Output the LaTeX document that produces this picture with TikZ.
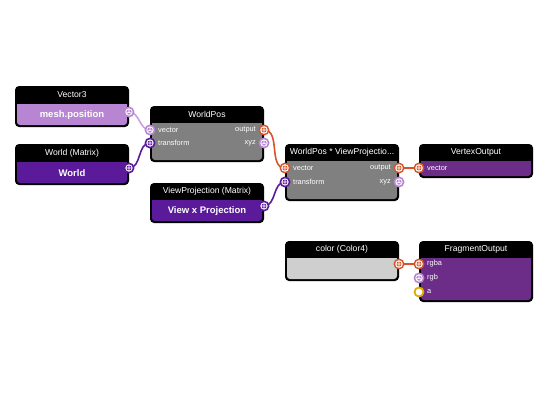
\documentclass[tikz,border=0pt]{standalone}
\usepackage{fontspec}
\setmainfont{Liberation Sans}
\pgfdeclarelayer{bg}
\pgfsetlayers{bg,main}

\definecolor{vthree}{HTML}{B885D2}
\definecolor{vthreewire}{HTML}{C9A2E2}
\definecolor{matcol}{HTML}{5A1A99}
\definecolor{vfour}{HTML}{D4552A}
\definecolor{floatcol}{HTML}{E2A800}
\definecolor{outcol}{HTML}{6B2D87}
\definecolor{greybody}{HTML}{808080}
\definecolor{colorbody}{HTML}{CFCFCF}

% one block of the graph: left, top, header bottom, bottom, body colour
\newcommand\blockbox[5]{%
  \fill[black,rounded corners=4pt] (#1,#2) rectangle (#1+114,#4);
  \fill[#5] (#1+2,#3) -- (#1+112,#3) [rounded corners=3pt] -- (#1+112,#4-2) -- (#1+2,#4-2) [sharp corners] -- cycle;
}

\tikzset{
  title/.style={text=white,font=\fontsize{8.6}{10}\selectfont,inner sep=0pt},
  value/.style={text=white,font=\fontsize{9.5}{11}\selectfont\bfseries,inner sep=0pt},
  inlabel/.style={text=white,font=\fontsize{7.4}{8}\selectfont,inner sep=0pt,anchor=west},
  outlabel/.style={text=white,font=\fontsize{7.4}{8}\selectfont,inner sep=0pt,anchor=east},
  port/.style={circle,minimum size=11pt,inner sep=0pt},
  portthree/.style={port,fill=vthree,path picture={
    \draw[white,line width=0.8pt,shift={(path picture bounding box.center)}]
      (0,0) circle (3.2pt) (0,0) -- (90:3.2pt) (0,0) -- (210:3.2pt) (0,0) -- (330:3.2pt);}},
  portmat/.style={port,fill=matcol,path picture={
    \draw[white,line width=0.8pt,shift={(path picture bounding box.center)}]
      (0,0) circle (3.2pt) (-3.2pt,0) -- (3.2pt,0) (0,-3.2pt) -- (0,3.2pt);}},
  portfour/.style={port,fill=vfour,path picture={
    \draw[white,line width=0.9pt,shift={(path picture bounding box.center)}]
      (0,0) circle (3.3pt) (-3.3pt,0) -- (3.3pt,0) (0,-3.3pt) -- (0,3.3pt);}},
  portfloat/.style={port,fill=white,draw=floatcol,line width=1.8pt,minimum size=9pt},
  wire/.style={line width=1.6pt},
}

\begin{document}
\begin{tikzpicture}[x=1pt,y=-1pt]
\useasboundingbox (0,0) rectangle (550,400);

% blocks
\blockbox{15}{86}{104}{127}{vthree}
\blockbox{15}{144}{162}{185}{matcol}
\blockbox{150}{106}{123}{162}{greybody}
\blockbox{150}{183}{200}{223}{matcol}
\blockbox{285}{144}{161}{201}{greybody}
\blockbox{419}{144}{161}{178}{outcol}
\blockbox{285}{241}{258}{281}{colorbody}
\blockbox{419}{241}{258}{302}{outcol}

% titles
\node[title] (vec3) at (72,95) {Vector3};
\node[title] (world) at (72,153) {World (Matrix)};
\node[title] (worldpos) at (207,114.5) {WorldPos};
\node[title] (viewproj) at (207,191.5) {ViewProjection (Matrix)};
\node[title] (wpvp) at (342,152.5) {WorldPos * ViewProjectio...};
\node[title] (vertout) at (476,152.5) {VertexOutput};
\node[title] (color) at (342,249.5) {color (Color4)};
\node[title] (fragout) at (476,249.5) {FragmentOutput};

% values
\node[value] (vec3val) at (72,115.5) {mesh.position};
\node[value] (worldval) at (72,173.5) {World};
\node[value] (viewprojval) at (207,211.5) {View x Projection};

% port labels
\node[inlabel] (wp-l1) at (158,130) {vector};
\node[inlabel] (wp-l2) at (158,143) {transform};
\node[outlabel] (wp-l3) at (256,130) {output};
\node[outlabel] (wp-l4) at (256,143) {xyz};
\node[inlabel] (wpvp-l1) at (293,168) {vector};
\node[inlabel] (wpvp-l2) at (293,182) {transform};
\node[outlabel] (wpvp-l3) at (391,168) {output};
\node[outlabel] (wpvp-l4) at (391,182) {xyz};
\node[inlabel] (vo-l1) at (427,168) {vector};
\node[inlabel] (fo-l1) at (427,264) {rgba};
\node[inlabel] (fo-l2) at (427,278) {rgb};
\node[inlabel] (fo-l3) at (427,292) {a};

% ports
\node[portthree] (vec3out) at (129,112) {};
\node[portmat] (worldout) at (129,168) {};
\node[portthree] (wpvec) at (150,130) {};
\node[portmat] (wptrans) at (150,143) {};
\node[portfour] (wpout) at (264,130) {};
\node[portthree] (wpxyz) at (264,143) {};
\node[portmat] (viewprojout) at (264,206) {};
\node[portfour] (wpvpvec) at (285,168) {};
\node[portmat] (wpvptrans) at (285,182) {};
\node[portfour] (wpvpout) at (399,168) {};
\node[portthree] (wpvpxyz) at (399,182) {};
\node[portfour] (vovec) at (419,168) {};
\node[portfour] (colorout) at (399,264) {};
\node[portfour] (forgba) at (419,264) {};
\node[portthree] (forgb) at (419,278) {};
\node[portfloat] (foa) at (419,292) {};

% wires
\begin{pgfonlayer}{bg}
\draw[wire,vthreewire] (vec3out.center) to[out=0,in=180] (wpvec.center);
\draw[wire,matcol] (worldout.center) to[out=0,in=180] (wptrans.center);
\draw[wire,vfour] (wpout.center) to[out=0,in=180] (wpvpvec.center);
\draw[wire,matcol] (viewprojout.center) to[out=0,in=180] (wpvptrans.center);
\draw[wire,vfour] (wpvpout.center) -- (vovec.center);
\draw[wire,vfour] (colorout.center) -- (forgba.center);
\end{pgfonlayer}
\end{tikzpicture}
\end{document}
